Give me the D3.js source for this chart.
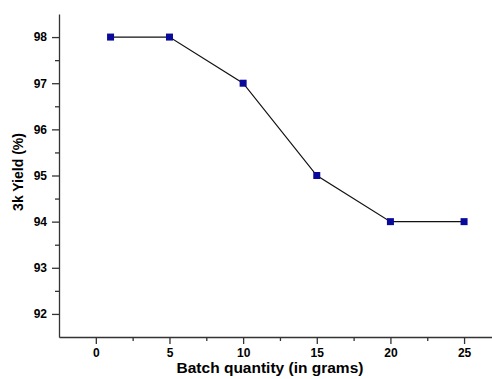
<!DOCTYPE html>
<html>
<head>
<meta charset="utf-8">
<script src="https://cdn.jsdelivr.net/npm/d3@7"></script>
<style>
  body { margin: 0; background: #fff; }
  svg { display: block; font-family: "Liberation Sans", Arial, sans-serif; }
</style>
</head>
<body>
<svg id="chart"></svg>
<script>
// data
let batchQty = [1, 5, 10, 15, 20, 25];
let yieldPct = [98, 98, 97, 95, 94, 94];
let xTicks = [0, 5, 10, 15, 20, 25];
let yTicks = [92, 93, 94, 95, 96, 97, 98];

let widthSVG = 492;
let heightSVG = 379;

let svg = d3.select('svg#chart')
            .attr('width', widthSVG)
            .attr('height', heightSVG);

// scales (x axis starts at 59, y axis spans 13..337)
let x = d3.scaleLinear().domain([-2.5, 27.5]).range([59, 59 + 30 * 14.73]);
let y = d3.scaleLinear().domain([91.5, 98.5]).range([337, 14]);

// x axis, minor ticks then major ticks
svg.append('g')
   .attr('transform', `translate(0, ${y(91.5)})`)
   .call(d3.axisBottom(x).tickValues(d3.range(2.5, 27.5, 5)).tickSize(4).tickFormat(''))
   .call(g => g.select('.domain').remove());

svg.append('g')
   .attr('class', 'x axis')
   .attr('transform', `translate(0, ${y(91.5)})`)
   .call(d3.axisBottom(x).tickValues(xTicks).tickFormat(d3.format('d'))
           .tickSize(7).tickSizeOuter(0).tickPadding(4))
   .call(g => g.selectAll('text').style('font-size', '12px').style('font-weight', 'bold'));

// y axis, minor ticks then major ticks
svg.append('g')
   .attr('transform', `translate(${x(-2.5)}, 0)`)
   .call(d3.axisLeft(y).tickValues(d3.range(92.5, 98.5, 1)).tickSize(4).tickFormat(''))
   .call(g => g.select('.domain').remove());

svg.append('g')
   .attr('class', 'y axis')
   .attr('transform', `translate(${x(-2.5)}, 0)`)
   .call(d3.axisLeft(y).tickValues(yTicks).tickFormat(d3.format('d'))
           .tickSize(7).tickSizeOuter(0).tickPadding(5))
   .call(g => g.selectAll('text').style('font-size', '12px').style('font-weight', 'bold'));

svg.selectAll('.domain, .tick line').style('stroke', '#333').style('stroke-width', '1.3px');

// line connecting points
let line = d3.line()
             .x((d, i) => x(batchQty[i]))
             .y(d => y(d));

svg.append('path')
   .datum(yieldPct)
   .attr('d', line)
   .style('fill', 'none')
   .style('stroke', '#111')
   .style('stroke-width', '1.2px');

// square markers
let mSize = 7;
svg.selectAll('rect.marker')
   .data(yieldPct)
   .enter()
   .append('rect')
   .classed('marker', true)
   .attr('x', (d, i) => x(batchQty[i]) - mSize / 2)
   .attr('y', d => y(d) - mSize / 2)
   .attr('width', mSize)
   .attr('height', mSize)
   .style('fill', '#0a0a9a');

// axis titles
svg.append('text')
   .text('Batch quantity (in grams)')
   .attr('x', 270)
   .attr('y', 373)
   .style('text-anchor', 'middle')
   .style('font-size', '15.5px')
   .style('font-weight', 'bold');

svg.append('text')
   .text('3k Yield (%)')
   .attr('transform', `translate(23, 172) rotate(-90)`)
   .style('text-anchor', 'middle')
   .style('font-size', '14px')
   .style('font-weight', 'bold');
</script>
</body>
</html>
